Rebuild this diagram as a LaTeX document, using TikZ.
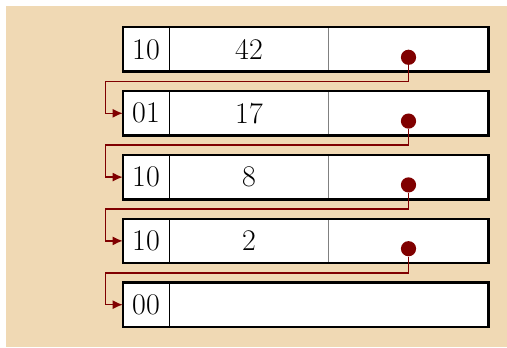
\documentclass[tikz,border=0pt]{standalone}
\usetikzlibrary{arrows.meta, positioning, calc}
\definecolor{bgtan}{RGB}{240,217,180}
\definecolor{linkred}{RGB}{128,0,0}

\begin{document}
\begin{tikzpicture}[font=\fontsize{15}{18}\selectfont, >={Latex[length=5pt,width=4.5pt]},
    cell/.style={fill=white, inner sep=0pt, outer sep=0pt, minimum height=22.2pt},
    tag/.style={cell, minimum width=23.3pt},
    val/.style={cell, minimum width=79.7pt},
    ptr/.style={cell, minimum width=79.8pt},
    frame/.style={draw, line width=1.2pt},
    sep/.style={line width=0.5pt},
    dot/.style={circle, fill=linkred, inner sep=0pt, minimum size=7.6pt},
    link/.style={draw=linkred, line width=0.7pt, ->}]
    \useasboundingbox (0,0) rectangle (253.5pt,-173.5pt);
    \fill[bgtan] (3pt,-3pt) rectangle (253.5pt,-173.5pt);

    % the records, one per row
    \node[tag] (t1) at (73pt,-24.75pt) {10};
    \node[val, right=0pt of t1] (v1) {42};
    \node[ptr, right=0pt of v1] (p1) {};

    \node[tag, below=9.7pt of t1] (t2) {01};
    \node[val, right=0pt of t2] (v2) {17};
    \node[ptr, right=0pt of v2] (p2) {};

    \node[tag, below=9.7pt of t2] (t3) {10};
    \node[val, right=0pt of t3] (v3) {8};
    \node[ptr, right=0pt of v3] (p3) {};

    \node[tag, below=9.7pt of t3] (t4) {10};
    \node[val, right=0pt of t4] (v4) {2};
    \node[ptr, right=0pt of v4] (p4) {};

    \node[tag, below=9.7pt of t4] (t5) {00};
    \node[cell, minimum width=159.5pt, right=0pt of t5] (v5) {};

    % dividers and outlines
    \draw[sep] (t1.north east) -- (t1.south east);
    \draw[sep, gray] (v1.north east) -- (v1.south east);
    \draw[sep] (t2.north east) -- (t2.south east);
    \draw[sep, gray] (v2.north east) -- (v2.south east);
    \draw[sep] (t3.north east) -- (t3.south east);
    \draw[sep, gray] (v3.north east) -- (v3.south east);
    \draw[sep] (t4.north east) -- (t4.south east);
    \draw[sep, gray] (v4.north east) -- (v4.south east);
    \draw[sep] (t5.north east) -- (t5.south east);

    \draw[frame] (t1.north west) rectangle (p1.south east);
    \draw[frame] (t2.north west) rectangle (p2.south east);
    \draw[frame] (t3.north west) rectangle (p3.south east);
    \draw[frame] (t4.north west) rectangle (p4.south east);
    \draw[frame] (t5.north west) rectangle (v5.south east);

    % next pointers
    \node[dot] (d1) at ($(p1.center)+(0,-3.9pt)$) {};
    \node[dot] (d2) at ($(p2.center)+(0,-3.9pt)$) {};
    \node[dot] (d3) at ($(p3.center)+(0,-3.9pt)$) {};
    \node[dot] (d4) at ($(p4.center)+(0,-3.9pt)$) {};

    \draw[link] (d1) |- ($(t1.south west)+(-8.7pt,-4.85pt)$) |- (t2.west);
    \draw[link] (d2) |- ($(t2.south west)+(-8.7pt,-4.85pt)$) |- (t3.west);
    \draw[link] (d3) |- ($(t3.south west)+(-8.7pt,-4.85pt)$) |- (t4.west);
    \draw[link] (d4) |- ($(t4.south west)+(-8.7pt,-4.85pt)$) |- (t5.west);
\end{tikzpicture}
\end{document}
